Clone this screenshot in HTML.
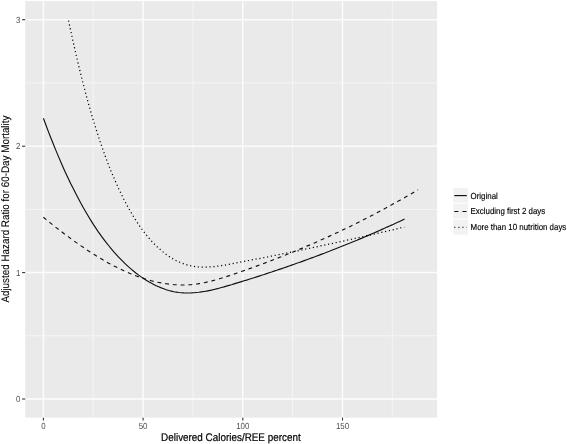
<!DOCTYPE html>
<html><head><meta charset="utf-8"><title>Figure</title>
<style>
html,body{margin:0;padding:0;background:#fff;}
svg{display:block;text-rendering:geometricPrecision;font-family:"Liberation Sans",Arial,Helvetica,sans-serif;}
.tk{font-size:8.8px;fill:#4d4d4d;}
.ti{font-size:11px;fill:#000;stroke:#000;stroke-width:0.2;}
.lg{font-size:8.8px;fill:#000;stroke:#000;stroke-width:0.15;}
.c{fill:none;stroke:#111;stroke-width:1.15;}
</style></head><body>
<svg width="567" height="444" viewBox="0 0 567 444">
<rect width="567" height="444" fill="#fff"/>
<rect x="25.2" y="1.1" width="411.90000000000003" height="416.54999999999995" fill="#eaeaea"/>
<line x1="93.2" x2="93.2" y1="1.1" y2="417.65" stroke="#f5f5f5" stroke-width="1.0"/>
<line x1="193.0" x2="193.0" y1="1.1" y2="417.65" stroke="#f5f5f5" stroke-width="1.0"/>
<line x1="292.6" x2="292.6" y1="1.1" y2="417.65" stroke="#f5f5f5" stroke-width="1.0"/>
<line x1="392.3" x2="392.3" y1="1.1" y2="417.65" stroke="#f5f5f5" stroke-width="1.0"/>
<line x1="25.2" x2="437.1" y1="335.8" y2="335.8" stroke="#f5f5f5" stroke-width="1.0"/>
<line x1="25.2" x2="437.1" y1="209.4" y2="209.4" stroke="#f5f5f5" stroke-width="1.0"/>
<line x1="25.2" x2="437.1" y1="82.9" y2="82.9" stroke="#f5f5f5" stroke-width="1.0"/>
<line x1="43.4" x2="43.4" y1="1.1" y2="417.65" stroke="#fcfcfc" stroke-width="1.5"/>
<line x1="43.4" x2="43.4" y1="417.65" y2="420.54999999999995" stroke="#333" stroke-width="1.1"/>
<text x="43.4" y="428.7" text-anchor="middle" class="tk" textLength="4.4" lengthAdjust="spacingAndGlyphs">0</text>
<line x1="143.1" x2="143.1" y1="1.1" y2="417.65" stroke="#fcfcfc" stroke-width="1.5"/>
<line x1="143.1" x2="143.1" y1="417.65" y2="420.54999999999995" stroke="#333" stroke-width="1.1"/>
<text x="143.1" y="428.7" text-anchor="middle" class="tk" textLength="8.8" lengthAdjust="spacingAndGlyphs">50</text>
<line x1="242.8" x2="242.8" y1="1.1" y2="417.65" stroke="#fcfcfc" stroke-width="1.5"/>
<line x1="242.8" x2="242.8" y1="417.65" y2="420.54999999999995" stroke="#333" stroke-width="1.1"/>
<text x="242.8" y="428.7" text-anchor="middle" class="tk" textLength="13.2" lengthAdjust="spacingAndGlyphs">100</text>
<line x1="342.5" x2="342.5" y1="1.1" y2="417.65" stroke="#fcfcfc" stroke-width="1.5"/>
<line x1="342.5" x2="342.5" y1="417.65" y2="420.54999999999995" stroke="#333" stroke-width="1.1"/>
<text x="342.5" y="428.7" text-anchor="middle" class="tk" textLength="13.2" lengthAdjust="spacingAndGlyphs">150</text>
<line x1="25.2" x2="437.1" y1="399.0" y2="399.0" stroke="#fcfcfc" stroke-width="1.5"/>
<line x1="22.1" x2="25.2" y1="399.0" y2="399.0" stroke="#333" stroke-width="1.1"/>
<text x="20.5" y="402.1" text-anchor="end" class="tk" textLength="4.4" lengthAdjust="spacingAndGlyphs">0</text>
<line x1="25.2" x2="437.1" y1="272.6" y2="272.6" stroke="#fcfcfc" stroke-width="1.5"/>
<line x1="22.1" x2="25.2" y1="272.6" y2="272.6" stroke="#333" stroke-width="1.1"/>
<text x="20.5" y="275.7" text-anchor="end" class="tk" textLength="4.4" lengthAdjust="spacingAndGlyphs">1</text>
<line x1="25.2" x2="437.1" y1="146.2" y2="146.2" stroke="#fcfcfc" stroke-width="1.5"/>
<line x1="22.1" x2="25.2" y1="146.2" y2="146.2" stroke="#333" stroke-width="1.1"/>
<text x="20.5" y="149.3" text-anchor="end" class="tk" textLength="4.4" lengthAdjust="spacingAndGlyphs">2</text>
<line x1="25.2" x2="437.1" y1="19.7" y2="19.7" stroke="#fcfcfc" stroke-width="1.5"/>
<line x1="22.1" x2="25.2" y1="19.7" y2="19.7" stroke="#333" stroke-width="1.1"/>
<text x="20.5" y="22.8" text-anchor="end" class="tk" textLength="4.4" lengthAdjust="spacingAndGlyphs">3</text>
<path class="c" d="M43.4,118.2 L45.9,125.0 L48.4,131.6 L50.9,138.0 L53.4,144.3 L55.9,150.4 L58.4,156.4 L60.9,162.2 L63.4,167.9 L65.9,173.4 L68.4,178.8 L70.9,184.0 L73.5,189.1 L76.0,194.0 L78.5,198.8 L81.0,203.5 L83.5,208.0 L86.0,212.3 L88.5,216.5 L91.0,220.6 L93.5,224.6 L96.0,228.4 L98.5,232.1 L101.0,235.6 L103.6,239.1 L106.1,242.4 L108.6,245.5 L111.1,248.6 L113.6,251.6 L116.1,254.4 L118.6,257.1 L121.1,259.7 L123.6,262.2 L126.1,264.6 L128.6,266.9 L131.2,269.1 L133.7,271.2 L136.2,273.2 L138.7,275.1 L141.2,276.9 L143.7,278.6 L146.2,280.2 L148.7,281.7 L151.2,283.1 L153.7,284.4 L156.2,285.7 L158.7,286.8 L161.3,287.9 L163.8,288.8 L166.3,289.7 L168.8,290.5 L171.3,291.1 L173.8,291.7 L176.3,292.1 L178.8,292.5 L181.3,292.7 L183.8,292.9 L186.3,293.0 L188.9,293.0 L191.4,292.9 L193.9,292.7 L196.4,292.5 L198.9,292.3 L201.4,291.9 L203.9,291.5 L206.4,291.1 L208.9,290.6 L211.4,290.1 L213.9,289.5 L216.4,288.9 L219.0,288.2 L221.5,287.5 L224.0,286.9 L226.5,286.1 L229.0,285.4 L231.5,284.7 L234.0,283.9 L236.5,283.1 L239.0,282.4 L241.5,281.6 L244.0,280.8 L246.6,280.1 L249.1,279.3 L251.6,278.5 L254.1,277.7 L256.6,276.9 L259.1,276.1 L261.6,275.3 L264.1,274.5 L266.6,273.6 L269.1,272.8 L271.6,272.0 L274.1,271.1 L276.7,270.3 L279.2,269.4 L281.7,268.6 L284.2,267.7 L286.7,266.9 L289.2,266.0 L291.7,265.1 L294.2,264.2 L296.7,263.3 L299.2,262.5 L301.7,261.6 L304.3,260.6 L306.8,259.7 L309.3,258.8 L311.8,257.9 L314.3,257.0 L316.8,256.0 L319.3,255.1 L321.8,254.1 L324.3,253.2 L326.8,252.2 L329.3,251.3 L331.8,250.3 L334.4,249.3 L336.9,248.3 L339.4,247.3 L341.9,246.3 L344.4,245.3 L346.9,244.3 L349.4,243.3 L351.9,242.2 L354.4,241.2 L356.9,240.2 L359.4,239.1 L362.0,238.1 L364.5,237.0 L367.0,235.9 L369.5,234.9 L372.0,233.8 L374.5,232.7 L377.0,231.6 L379.5,230.5 L382.0,229.4 L384.5,228.3 L387.0,227.1 L389.5,226.0 L392.1,224.9 L394.6,223.7 L397.1,222.6 L399.6,221.4 L402.1,220.2 L404.6,219.0"/>
<path class="c" stroke-dasharray="3.895 3.895" d="M43.4,217.3 L45.9,219.4 L48.4,221.4 L50.9,223.4 L53.4,225.4 L55.9,227.4 L58.4,229.3 L61.0,231.3 L63.5,233.2 L66.0,235.1 L68.5,236.9 L71.0,238.7 L73.5,240.6 L76.0,242.4 L78.6,244.1 L81.1,245.9 L83.6,247.6 L86.1,249.3 L88.6,251.0 L91.1,252.6 L93.7,254.2 L96.2,255.8 L98.7,257.3 L101.2,258.8 L103.7,260.3 L106.2,261.8 L108.7,263.2 L111.3,264.5 L113.8,265.9 L116.3,267.1 L118.8,268.4 L121.3,269.6 L123.8,270.8 L126.3,271.9 L128.9,273.0 L131.4,274.0 L133.9,275.0 L136.4,276.0 L138.9,276.9 L141.4,277.8 L144.0,278.6 L146.5,279.4 L149.0,280.1 L151.5,280.8 L154.0,281.4 L156.5,282.0 L159.0,282.5 L161.6,283.0 L164.1,283.4 L166.6,283.8 L169.1,284.2 L171.6,284.4 L174.1,284.7 L176.7,284.8 L179.2,284.9 L181.7,285.0 L184.2,285.0 L186.7,284.9 L189.2,284.8 L191.7,284.6 L194.3,284.3 L196.8,284.0 L199.3,283.6 L201.8,283.2 L204.3,282.7 L206.8,282.1 L209.3,281.5 L211.9,280.9 L214.4,280.2 L216.9,279.5 L219.4,278.8 L221.9,278.0 L224.4,277.2 L227.0,276.4 L229.5,275.6 L232.0,274.7 L234.5,273.9 L237.0,273.0 L239.5,272.1 L242.0,271.3 L244.6,270.4 L247.1,269.5 L249.6,268.6 L252.1,267.7 L254.6,266.8 L257.1,265.9 L259.6,265.0 L262.2,264.0 L264.7,263.1 L267.2,262.1 L269.7,261.2 L272.2,260.2 L274.7,259.3 L277.3,258.3 L279.8,257.3 L282.3,256.3 L284.8,255.3 L287.3,254.3 L289.8,253.3 L292.3,252.3 L294.9,251.2 L297.4,250.2 L299.9,249.1 L302.4,248.1 L304.9,247.0 L307.4,245.9 L310.0,244.9 L312.5,243.8 L315.0,242.7 L317.5,241.6 L320.0,240.4 L322.5,239.3 L325.0,238.2 L327.6,237.0 L330.1,235.9 L332.6,234.7 L335.1,233.6 L337.6,232.4 L340.1,231.2 L342.6,230.0 L345.2,228.8 L347.7,227.6 L350.2,226.4 L352.7,225.1 L355.2,223.9 L357.7,222.7 L360.3,221.4 L362.8,220.1 L365.3,218.8 L367.8,217.6 L370.3,216.3 L372.8,215.0 L375.3,213.6 L377.9,212.3 L380.4,211.0 L382.9,209.6 L385.4,208.3 L387.9,206.9 L390.4,205.5 L392.9,204.1 L395.5,202.7 L398.0,201.3 L400.5,199.9 L403.0,198.5 L405.5,197.1 L408.0,195.6 L410.6,194.2 L413.1,192.7 L415.6,191.2 L418.1,189.7"/>
<path class="c" style="stroke-width:1.25;stroke:#000" stroke-dasharray="1.15 2.745" d="M68.5,20.6 L71.1,32.4 L73.6,43.8 L76.1,54.8 L78.6,65.4 L81.1,75.6 L83.6,85.4 L86.1,94.9 L88.6,104.0 L91.1,112.8 L93.6,121.2 L96.1,129.3 L98.6,137.0 L101.1,144.5 L103.6,151.6 L106.1,158.5 L108.6,165.0 L111.1,171.3 L113.7,177.4 L116.2,183.1 L118.7,188.7 L121.2,193.9 L123.7,199.0 L126.2,203.8 L128.7,208.4 L131.2,212.7 L133.7,216.9 L136.2,220.9 L138.7,224.6 L141.2,228.2 L143.7,231.6 L146.2,234.8 L148.7,237.8 L151.2,240.7 L153.7,243.4 L156.2,245.9 L158.8,248.3 L161.3,250.5 L163.8,252.6 L166.3,254.5 L168.8,256.2 L171.3,257.9 L173.8,259.3 L176.3,260.7 L178.8,261.9 L181.3,262.9 L183.8,263.9 L186.3,264.7 L188.8,265.4 L191.3,265.9 L193.8,266.4 L196.3,266.7 L198.8,267.0 L201.3,267.1 L203.9,267.2 L206.4,267.1 L208.9,267.0 L211.4,266.8 L213.9,266.6 L216.4,266.3 L218.9,266.0 L221.4,265.6 L223.9,265.2 L226.4,264.8 L228.9,264.3 L231.4,263.8 L233.9,263.4 L236.4,262.9 L238.9,262.4 L241.4,261.9 L243.9,261.5 L246.4,261.0 L249.0,260.5 L251.5,260.0 L254.0,259.5 L256.5,259.0 L259.0,258.6 L261.5,258.1 L264.0,257.6 L266.5,257.1 L269.0,256.6 L271.5,256.1 L274.0,255.6 L276.5,255.1 L279.0,254.6 L281.5,254.1 L284.0,253.6 L286.5,253.0 L289.0,252.5 L291.5,252.0 L294.1,251.5 L296.6,251.0 L299.1,250.5 L301.6,250.0 L304.1,249.4 L306.6,248.9 L309.1,248.4 L311.6,247.9 L314.1,247.3 L316.6,246.8 L319.1,246.3 L321.6,245.7 L324.1,245.2 L326.6,244.7 L329.1,244.1 L331.6,243.6 L334.1,243.0 L336.6,242.5 L339.2,241.9 L341.7,241.4 L344.2,240.8 L346.7,240.3 L349.2,239.7 L351.7,239.2 L354.2,238.6 L356.7,238.0 L359.2,237.5 L361.7,236.9 L364.2,236.4 L366.7,235.8 L369.2,235.2 L371.7,234.6 L374.2,234.1 L376.7,233.5 L379.2,232.9 L381.7,232.3 L384.3,231.7 L386.8,231.2 L389.3,230.6 L391.8,230.0 L394.3,229.4 L396.8,228.8 L399.3,228.2 L401.8,227.6 L404.3,227.0"/>
<text class="ti" x="230.9" y="440.8" text-anchor="middle" textLength="139.6" lengthAdjust="spacingAndGlyphs">Delivered Calories/REE percent</text>
<text class="ti" style="stroke-width:0.08" transform="translate(9.0,209.1) rotate(-90)" text-anchor="middle" textLength="187" lengthAdjust="spacingAndGlyphs">Adjusted Hazard Ratio for 60-Day Mortality</text>
<g>
<rect x="453.3" y="187.8" width="14.7" height="14.9" fill="#f2f2f2"/>
<rect x="453.3" y="203.7" width="14.7" height="14.9" fill="#f2f2f2"/>
<rect x="453.3" y="219.7" width="14.7" height="14.9" fill="#f2f2f2"/>
<line class="c" x1="454.3" x2="466.8" y1="195.6" y2="195.6"/>
<line class="c" x1="454.3" x2="466.8" y1="211.5" y2="211.5" stroke-dasharray="4.08 4.08"/>
<line class="c" x1="454.3" x2="466.8" y1="227.4" y2="227.4" stroke-dasharray="1.02 3.06"/>
<text class="lg" x="470.6" y="198.6" textLength="27.2" lengthAdjust="spacingAndGlyphs">Original</text>
<text class="lg" x="470.6" y="214.3" textLength="74.6" lengthAdjust="spacingAndGlyphs">Excluding first 2 days</text>
<text class="lg" x="470.6" y="230.2" textLength="95.7" lengthAdjust="spacingAndGlyphs">More than 10 nutrition days</text>
</g>
</svg>
</body></html>
